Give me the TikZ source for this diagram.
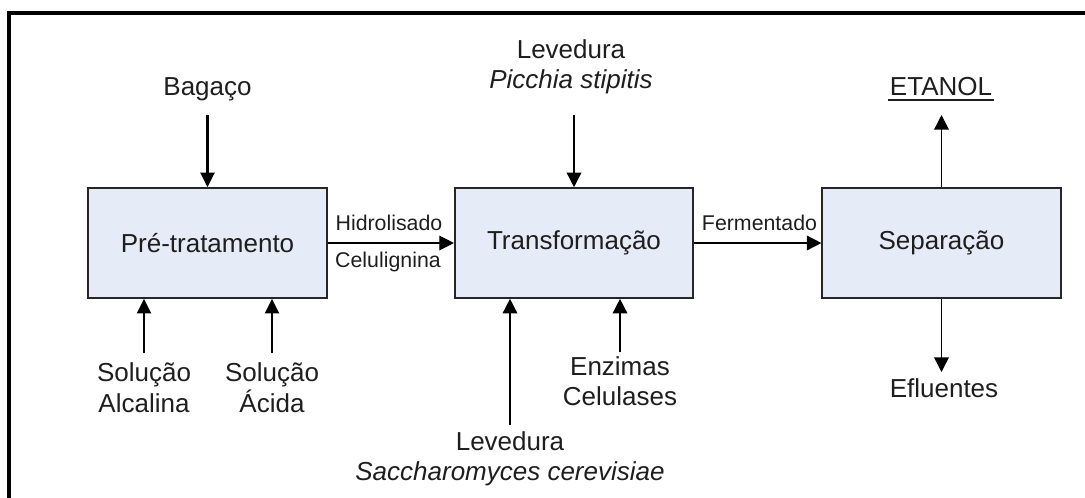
\documentclass[tikz,border=0pt]{standalone}
\usepackage{fontspec}
\setmainfont{Liberation Sans}
\usetikzlibrary{arrows.meta}
\definecolor{boxfill}{RGB}{230,236,247}
\definecolor{txtcol}{RGB}{30,30,30}
\tikzset{
  box/.style={draw=black!85, line width=1.2pt, fill=boxfill, minimum width=178.9pt, minimum height=82.5pt, inner sep=0pt, text=txtcol, font=\fontsize{19.5}{22.5}\selectfont},
  txt/.style={inner sep=0pt, anchor=base, text=txtcol, font=\fontsize{19.5}{22.5}\selectfont},
  itxt/.style={txt, font=\fontsize{19.5}{22.5}\selectfont\itshape},
  lbl/.style={inner sep=0pt, anchor=base, text=txtcol, font=\fontsize{16}{19}\selectfont},
  thickarr/.style={line width=1.9pt, -{Triangle[length=11pt,width=10.5pt]}},
  thinarr/.style={line width=1.1pt, -{Triangle[length=11pt,width=11pt]}},
}
\begin{document}
\begin{tikzpicture}[x=0.75pt,y=-0.75pt]
\useasboundingbox (0,0) rectangle (1085,497);
% frame
\draw[line width=2.6pt] (9,520) -- (9,13) -- (1100,13);
% boxes
\node[box] (pre) at (207.5,243) {Pré-tratamento};
\node[box] (trans) at (574,243) {Transformação};
\node[box] (sep) at (941.5,243) {Separação};
% texts
\node[txt] (bagaco) at (207.5,95) {Bagaço};
\node[txt] (levtop) at (571,58) {Levedura};
\node[itxt] (picchia) at (571,88) {Picchia stipitis};
\node[txt] (solA1) at (144,381.7) {Solução};
\node[txt] (solA2) at (144,412) {Alcalina};
\node[txt] (solB1) at (272,381.7) {Solução};
\node[txt] (solB2) at (272,412) {Ácida};
\node[txt] (enz1) at (620,375) {Enzimas};
\node[txt] (enz2) at (620,405) {Celulases};
\node[txt] (levbot) at (510,450) {Levedura};
\node[itxt] (sacch) at (510,480) {Saccharomyces cerevisiae};
\node[txt] (etanol) at (941,95) {ETANOL};
\node[txt] (eflu) at (944,397) {Efluentes};
\draw[line width=1.5pt, txtcol] ([xshift=-1pt,yshift=-3.4pt]etanol.base west) -- ([xshift=1pt,yshift=-3.4pt]etanol.base east);
% labels
\node[lbl] (hidro) at (389,230) {Hidrolisado};
\node[lbl] (celu) at (388,267.3) {Celulignina};
\node[lbl] (ferm) at (759.5,230.5) {Fermentado};
% arrow free ends
\coordinate (bagacoA) at (207.5,115);
\coordinate (solAA) at (144,353);
\coordinate (solBA) at (272,353);
\coordinate (picA) at (574,115);
\coordinate (sacA) at (510,425);
\coordinate (enzA) at (620,352);
\coordinate (etaA) at (941.5,115);
\coordinate (eflA) at (941.5,372);
% connectors
\draw[thickarr] (bagacoA) -- (pre.north);
\draw[thickarr] (solAA) -- (solAA |- pre.south);
\draw[thickarr] (solBA) -- (solBA |- pre.south);
\draw[thinarr, line width=1pt] (pre.east) -- (trans.west);
\draw[thinarr] (picA) -- (trans.north);
\draw[thinarr] (sacA) -- (sacA |- trans.south);
\draw[thinarr] (enzA) -- (enzA |- trans.south);
\draw[thinarr] (trans.east) -- (sep.west);
\draw[thinarr] (sep.north) -- (etaA);
\draw[thinarr] (sep.south) -- (eflA);
\end{tikzpicture}
\end{document}
